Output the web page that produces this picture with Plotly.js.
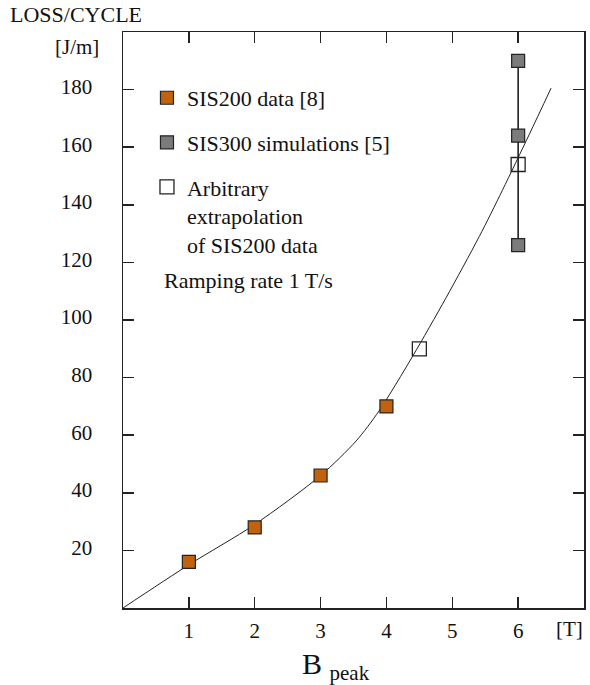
<!DOCTYPE html>
<html>
<head>
<meta charset="utf-8">
<script src="https://cdn.plot.ly/plotly-3.0.1.min.js"></script>
<style>html,body{margin:0;padding:0;background:#fff;}#chart{width:590px;height:685px;}</style>
</head>
<body>
<div id="chart"></div>
<script>
// Data
const sis200X = [1, 2, 3, 4];
const sis200Y = [16, 28, 46, 70];
const sis300X = [6, 6, 6];
const sis300Y = [190, 164, 126];
const extrapX = [4.5, 6];
const extrapY = [90, 154];
const curveX = [0, 1, 2, 3, 3.54, 3.89, 4.4, 4.9, 5.41, 5.76, 6.17, 6.5];
const curveY = [0, 15, 29, 46, 58, 68.5, 87.5, 107.5, 129, 145, 164.5, 180.5];
const xTicks = [1, 2, 3, 4, 5, 6];
const yTicks = [20, 40, 60, 80, 100, 120, 140, 160, 180];

const serif = '"Liberation Serif", "Times New Roman", Times, "DejaVu Serif", serif';

const traces = [
  {x: [sis300X[0], sis300X[0]], y: [Math.min(...sis300Y), Math.max(...sis300Y)],
   mode: 'lines', line: {color: '#111', width: 1.5}, showlegend: false, hoverinfo: 'skip'},
  {x: curveX, y: curveY, mode: 'lines', line: {color: '#222', width: 1, shape: 'spline', smoothing: 0.8},
   showlegend: false, hoverinfo: 'skip'},
  {x: sis200X, y: sis200Y, mode: 'markers', name: 'SIS200 data [8]', legendgroup: 'a',
   marker: {symbol: 'square', size: 13, color: '#c2620e', line: {color: '#222', width: 1.2}}},
  {x: sis300X, y: sis300Y, mode: 'markers', name: 'SIS300 simulations [5]', legendgroup: 'b',
   marker: {symbol: 'square', size: 13, color: '#7b7b7b', line: {color: '#222', width: 1.2}}},
  {x: extrapX, y: extrapY, mode: 'markers', name: 'Arbitrary<br>extrapolation<br>of SIS200 data', legendgroup: 'c',
   marker: {symbol: 'square-open', size: 14, color: '#222', line: {color: '#222', width: 1.3}}}
];

const axisCommon = {
  showgrid: false, zeroline: false, showline: true, mirror: 'ticks',
  linecolor: '#222', linewidth: 1.5, ticks: 'inside', ticklen: 11, tickwidth: 1.5, tickcolor: '#222',
  tickfont: {family: serif, size: 21, color: '#111'}, fixedrange: true
};

const layout = {
  width: 590, height: 685,
  margin: {l: 123, r: 6, t: 32, b: 77},
  paper_bgcolor: '#fff', plot_bgcolor: '#fff',
  font: {family: serif, color: '#111'},
  xaxis: Object.assign({}, axisCommon, {range: [0, 7], tickvals: xTicks, ticktext: xTicks.map(String), ticklabelstandoff: 3}),
  yaxis: Object.assign({}, axisCommon, {range: [0, 200], tickvals: yTicks, ticktext: yTicks.map(String), ticklabelstandoff: 25, ticklabelshift: -3}),
  showlegend: true,
  legend: {x: 0.052, y: 0.922, xanchor: 'left', yanchor: 'top', bgcolor: 'rgba(0,0,0,0)',
    font: {family: serif, size: 22, color: '#111'}, traceorder: 'grouped', tracegroupgap: 13, valign: 'top'},
  annotations: [
    {text: 'LOSS/CYCLE', xref: 'paper', yref: 'paper', x: -0.2495, y: 1.03125, xanchor: 'left', yanchor: 'middle',
     showarrow: false, font: {family: serif, size: 22, color: '#111'}},
    {text: '[J/m]', xref: 'paper', yref: 'paper', x: -0.047, y: 0.974, xanchor: 'right', yanchor: 'middle',
     showarrow: false, font: {family: serif, size: 21, color: '#111'}},
    {text: '[T]', xref: 'paper', yref: 'paper', x: 0.9696, y: -0.0365, xanchor: 'center', yanchor: 'middle',
     showarrow: false, font: {family: serif, size: 21, color: '#111'}},
    {text: 'B <sub>peak</sub>', xref: 'paper', yref: 'paper', x: 0.384, y: -0.1, xanchor: 'left', yanchor: 'middle',
     showarrow: false, font: {family: serif, size: 30, color: '#111'}},
    {text: 'Ramping rate 1 T/s', xref: 'paper', yref: 'paper', x: 0.0846, y: 0.569, xanchor: 'left', yanchor: 'middle',
     showarrow: false, font: {family: serif, size: 22, color: '#111'}}
  ]
};

Plotly.newPlot('chart', traces, layout, {staticPlot: true, displayModeBar: false});
</script>
</body>
</html>
